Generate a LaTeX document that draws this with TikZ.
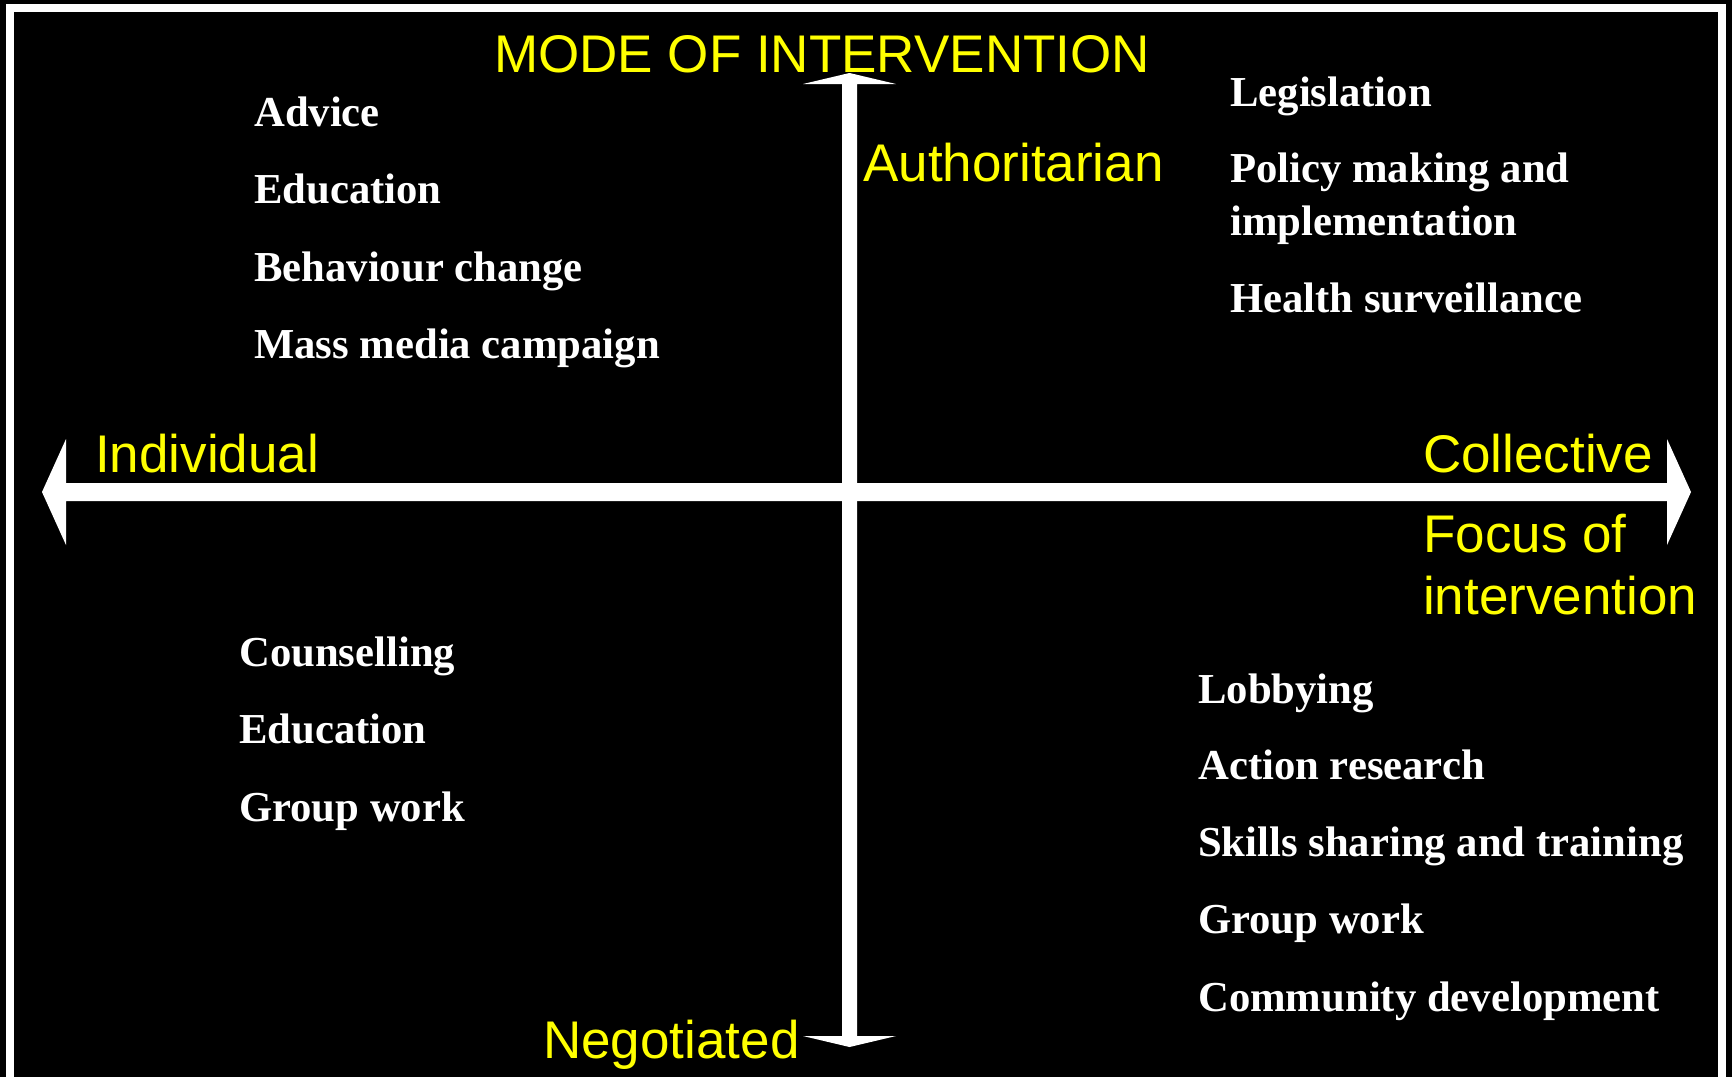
\documentclass[tikz,border=0pt]{standalone}
\usepackage{fontspec}
\setmainfont{Liberation Serif}
\newfontfamily\ysans{Liberation Sans}
\definecolor{lab}{RGB}{255,255,0}
\begin{document}
\begin{tikzpicture}[x=1pt,y=-1pt,
  axlabel/.style={text=lab,font=\ysans\fontsize{53}{60}\selectfont,inner sep=0pt,anchor=base west},
  item/.style={text=white,font=\bfseries\fontsize{42.7}{50}\selectfont,inner sep=0pt,anchor=base west},
  axisbar/.style={fill=white,draw=none}]
\useasboundingbox (0,0) rectangle (1732,1077);
\clip (0,0) rectangle (1732,1077);
\fill[black] (0,0) rectangle (1732,1077);
\draw[white,line width=8pt] (10,8) rectangle (1722,1120);
% axes
\coordinate (top) at (849.5,73);
\coordinate (bottom) at (849.5,1047);
\coordinate (left) at (42,492);
\coordinate (right) at (1691,492);
\fill[axisbar] (top) -- (896,84) -- (857,84) -- (857,1036) -- (896,1036) -- (bottom)
  -- (803,1036) -- (842,1036) -- (842,84) -- (803,84) -- cycle;
\fill[axisbar] (left) -- (66,439) -- (66,483) -- (1667,483) -- (1667,439) -- (right)
  -- (1667,545) -- (1667,501) -- (66,501) -- (66,545) -- cycle;
% axis labels
\node[axlabel] (mode) at (494,72) {MODE OF INTERVENTION};
\node[axlabel] (auth) at (863,181) {Authoritarian};
\node[axlabel] (indiv) at (95,472) {Individual};
\node[axlabel] (coll) at (1423,472) {Collective};
\node[axlabel] (focus1) at (1423,552) {Focus of};
\node[axlabel] (focus2) at (1423,614) {intervention};
\node[axlabel] (nego) at (543,1058) {Negotiated};
% top left
\node[item] (a1) at (254,126) {Advice};
\node[item] (a2) at (254,203) {Education};
\node[item] (a3) at (254,281) {Behaviour change};
\node[item] (a4) at (254,358) {Mass media campaign};
% top right
\node[item] (b1) at (1230,106) {Legislation};
\node[item] (b2) at (1230,182) {Policy making and};
\node[item] (b3) at (1230,235) {implementation};
\node[item] (b4) at (1230,312) {Health surveillance};
% bottom left
\node[item] (c1) at (239,666) {Counselling};
\node[item] (c2) at (239,743) {Education};
\node[item] (c3) at (239,821) {Group work};
% bottom right
\node[item] (d1) at (1198,703) {Lobbying};
\node[item] (d2) at (1198,779) {Action research};
\node[item] (d3) at (1198,856) {Skills sharing and training};
\node[item] (d4) at (1198,933) {Group work};
\node[item] (d5) at (1198,1011) {Community development};
\end{tikzpicture}
\end{document}
